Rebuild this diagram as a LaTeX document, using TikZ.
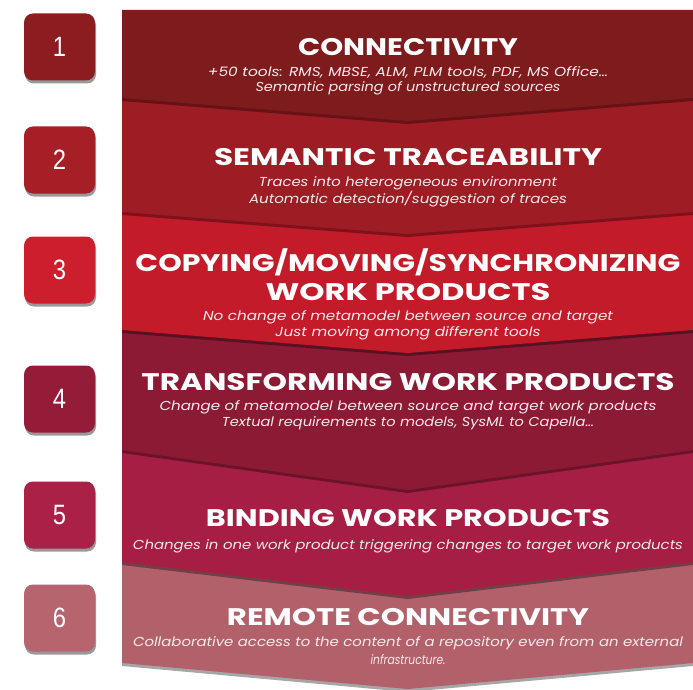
\documentclass[tikz,border=0pt]{standalone}
\usepackage{fontspec}
\setmainfont{Poppins}
\newfontfamily\numfont{Liberation Sans}
\usetikzlibrary{shadows}

% band and badge colours, top to bottom
\definecolor{bandA}{RGB}{125,27,29}
\definecolor{bandB}{RGB}{158,28,35}
\definecolor{bandC}{RGB}{196,27,42}
\definecolor{bandD}{RGB}{140,26,52}
\definecolor{bandE}{RGB}{166,30,68}
\definecolor{bandF}{RGB}{178,97,107}
\definecolor{boxA}{RGB}{140,28,32}
\definecolor{boxB}{RGB}{166,30,38}
\definecolor{boxC}{RGB}{204,30,44}
\definecolor{boxD}{RGB}{148,28,56}
\definecolor{boxE}{RGB}{170,32,70}
\definecolor{boxF}{RGB}{182,100,110}
\definecolor{subtext}{RGB}{250,232,234}

% stretch a text horizontally to a given width
\newcommand\fitw[2]{\resizebox{#1}{\height}{#2}}

\begin{document}
\begin{tikzpicture}[x=1pt,y=-1pt,
  bandshape/.style={drop shadow={shadow xshift=0pt,shadow yshift=-3pt,opacity=0.35,fill=black}},
  numbox/.style={rounded corners=9pt,minimum width=71pt,minimum height=67pt,
    text=white,font=\numfont\fontsize{28}{28}\selectfont,
    drop shadow={shadow xshift=1pt,shadow yshift=-3pt,opacity=0.4,fill=black}},
  title/.style={text=white,font=\bfseries\fontsize{24}{24}\selectfont,inner sep=0pt},
  subtitle/.style={text=subtext,font=\itshape\fontsize{13}{15}\selectfont,inner sep=0pt}]
\useasboundingbox (0,0) rectangle (693,690);

% chevron bands, drawn bottom first so each upper band overlaps the next
\fill[bandF,bandshape] (122,556) -- (693,556) -- (693,663) -- (407.5,689) -- (122,663) -- cycle;
\fill[bandE,bandshape] (122,444) -- (693,444) -- (693,562) -- (407.5,596) -- (122,562) -- cycle;
\fill[bandD,bandshape] (122,324) -- (693,324) -- (693,450) -- (407.5,490) -- (122,450) -- cycle;
\fill[bandC,bandshape] (122,206) -- (693,206) -- (693,330) -- (407.5,353) -- (122,330) -- cycle;
\fill[bandB,bandshape] (122,92) -- (693,92) -- (693,212) -- (407.5,234) -- (122,212) -- cycle;
\fill[bandA,bandshape] (122,10) -- (693,10) -- (693,98) -- (407.5,121) -- (122,98) -- cycle;

% numbered badges
\node[numbox,fill=boxA] (n1) at (59.5,47) {\scalebox{0.85}[1]{1}};
\node[numbox,fill=boxB] (n2) at (59.5,160) {\scalebox{0.85}[1]{2}};
\node[numbox,fill=boxC] (n3) at (59.5,270) {\scalebox{0.85}[1]{3}};
\node[numbox,fill=boxD] (n4) at (59.5,399) {\scalebox{0.85}[1]{4}};
\node[numbox,fill=boxE] (n5) at (59.5,515) {\scalebox{0.85}[1]{5}};
\node[numbox,fill=boxF] (n6) at (59.5,618) {\scalebox{0.85}[1]{6}};

% band 1
\node[title] (t1) at (408,47) {\fitw{220pt}{CONNECTIVITY}};
\node[subtitle] (s1a) at (408,72) {\fitw{400pt}{+50 tools: RMS, MBSE, ALM, PLM tools, PDF, MS Office…}};
\node[subtitle] (s1b) at (408,88) {\fitw{305pt}{Semantic parsing of unstructured sources}};

% band 2
\node[title] (t2) at (408,157) {\fitw{388pt}{SEMANTIC TRACEABILITY}};
\node[subtitle] (s2a) at (408,183) {\fitw{298pt}{Traces into heterogeneous environment}};
\node[subtitle] (s2b) at (408,199) {\fitw{318pt}{Automatic detection/suggestion of traces}};

% band 3
\node[title] (t3a) at (408,262) {\fitw{545pt}{COPYING/MOVING/SYNCHRONIZING}};
\node[title] (t3b) at (408,292) {\fitw{285pt}{WORK PRODUCTS}};
\node[subtitle] (s3a) at (408,317) {\fitw{410pt}{No change of metamodel between source and target}};
\node[subtitle] (s3b) at (408,333) {\fitw{265pt}{Just moving among different tools}};

% band 4
\node[title] (t4) at (408,382) {\fitw{533pt}{TRANSFORMING WORK PRODUCTS}};
\node[subtitle] (s4a) at (408,407) {\fitw{497pt}{Change of metamodel between source and target work products}};
\node[subtitle] (s4b) at (408,423) {\fitw{372pt}{Textual requirements to models, SysML to Capella…}};

% band 5
\node[title] (t5) at (408,518) {\fitw{404pt}{BINDING WORK PRODUCTS}};
\node[subtitle] (s5) at (408,546) {\fitw{550pt}{Changes in one work product triggering changes to target work products}};

% band 6
\node[title] (t6) at (408,617) {\fitw{362pt}{REMOTE CONNECTIVITY}};
\node[subtitle] (s6a) at (408,643) {\fitw{550pt}{Collaborative access to the content of a repository even from an external}};
\node[subtitle] (s6b) at (408,660) {\fitw{75pt}{infrastructure.}};
\end{tikzpicture}
\end{document}
